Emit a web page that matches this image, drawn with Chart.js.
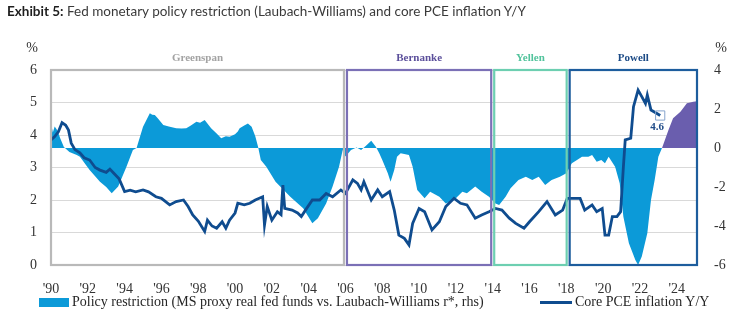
<!DOCTYPE html>
<html><head><meta charset="utf-8">
<script src="https://cdn.jsdelivr.net/npm/chart.js@4.4.1/dist/chart.umd.min.js"></script>
<style>
html,body{margin:0;padding:0;background:#fff;}
#wrap{position:relative;width:740px;height:328px;overflow:hidden;}
#title{position:absolute;left:7px;top:3px;font-family:Lato,"Open Sans",sans-serif;font-size:13.5px;color:#3a3a3a;white-space:nowrap;z-index:2;}
#title b{color:#1e1e1e;}
#chart{position:absolute;left:0;top:0;}
#legend{position:absolute;left:0;top:294px;width:740px;height:18px;font-family:"Liberation Serif","Times New Roman",serif;font-size:14px;color:#262626;z-index:2;}
.li{position:absolute;top:0;white-space:nowrap;line-height:16px;}
.sw{position:absolute;}
</style></head>
<body>
<div id="wrap">
  <div id="title"><b>Exhibit 5:</b> Fed monetary policy restriction (Laubach-Williams) and core PCE inflation Y/Y</div>
  <canvas id="chart" width="740" height="328"></canvas>
  <div id="legend">
    <div class="sw" style="left:39px;top:4px;width:30px;height:9px;background:#0c9ad8"></div>
    <div class="li" style="left:72px">Policy restriction (MS proxy real fed funds vs. Laubach-Williams r*, rhs)</div>
    <div class="sw" style="left:540px;top:7px;width:32px;height:3px;background:#0f4c8f"></div>
    <div class="li" style="left:575px">Core PCE inflation Y/Y</div>
  </div>
</div>
<script>
// ---------- data ----------
const tickYears  = [1990,1992,1994,1996,1998,2000,2002,2004,2006,2008,2010,2012,2014,2016,2018,2020,2022,2024];
const tickLabels = ["'90","'92","'94","'96","'98","'00","'02","'04","'06","'08","'10","'12","'14","'16","'18","'20","'22","'24"];

const chairNames = ["Greenspan","Bernanke","Yellen","Powell"];
const chairStart = [1990.0, 2006.0, 2014.0, 2018.1];
const chairEnd   = [2006.0, 2014.0, 2018.1, 2025.1];

// Core PCE inflation Y/Y (%, left axis)
const pceYears = [1990.0,1990.2,1990.4,1990.6,1990.8,1990.95,1991.1,1991.3,1991.57,1991.8,1992.1,1992.4,1992.66,1993.0,1993.2,1993.4,1993.7,1994.0,1994.3,1994.6,1995.0,1995.3,1995.7,1996.0,1996.45,1996.8,1997.2,1997.45,1997.7,1998.0,1998.35,1998.5,1998.75,1999.0,1999.3,1999.5,1999.7,2000.0,2000.15,2000.5,2000.8,2001.1,2001.5,2001.6,2001.75,2002.0,2002.3,2002.5,2002.6,2002.7,2003.1,2003.4,2003.6,2003.9,2004.2,2004.6,2004.95,2005.3,2005.75,2006.0,2006.4,2006.65,2006.85,2007.0,2007.4,2007.75,2008.0,2008.4,2008.65,2008.9,2009.2,2009.45,2009.65,2010.0,2010.3,2010.7,2011.1,2011.45,2011.9,2012.25,2012.6,2013.05,2013.4,2013.8,2014.15,2014.5,2014.9,2015.25,2015.7,2016.0,2016.5,2016.95,2017.4,2017.8,2018.05,2018.5,2018.75,2019.0,2019.4,2019.65,2019.95,2020.1,2020.3,2020.5,2020.75,2020.95,2021.1,2021.2,2021.5,2021.65,2021.9,2022.1,2022.3,2022.4,2022.6,2022.9,2023.1];
const pceValues = [3.85,3.95,4.1,4.38,4.3,4.15,3.75,3.55,3.45,3.3,3.23,3.0,2.92,2.85,2.95,2.83,2.65,2.26,2.3,2.25,2.31,2.25,2.1,2.05,1.85,1.95,2.0,1.8,1.54,1.35,1.03,1.38,1.2,1.13,1.33,1.13,1.38,1.6,1.9,1.85,1.9,2.0,2.1,1.23,1.8,1.38,1.64,1.55,2.46,1.74,1.69,1.6,1.49,1.75,2.0,2.0,2.2,2.1,2.31,2.2,2.62,2.51,2.31,2.56,2.0,2.31,2.1,2.26,1.69,0.92,0.82,0.62,1.28,1.74,1.64,1.08,1.33,1.8,2.05,1.9,1.85,1.44,1.54,1.64,1.74,1.69,1.44,1.28,1.13,1.33,1.64,1.95,1.54,1.69,2.05,2.05,2.05,1.69,1.85,1.64,1.74,0.92,0.92,1.49,1.49,1.64,3.02,3.85,3.9,4.87,5.38,5.18,4.97,5.23,4.77,4.67,4.6];

// Policy restriction (pp, right axis)
const restrictYears = [1990.0,1990.1,1990.2,1990.35,1990.5,1990.7,1991.0,1991.4,1991.57,1992.1,1992.66,1993.0,1993.3,1993.65,1994.1,1994.45,1994.65,1995.0,1995.37,1995.5,1995.64,1995.8,1996.1,1996.4,1996.8,1997.1,1997.35,1997.6,1997.9,1998.1,1998.35,1998.7,1999.0,1999.25,1999.5,1999.7,2000.0,2000.15,2000.25,2000.5,2000.7,2000.9,2001.1,2001.25,2001.4,2001.7,2002.2,2003.0,2003.7,2004.2,2004.5,2004.95,2005.3,2005.65,2005.85,2006.0,2006.3,2006.6,2006.85,2007.1,2007.4,2007.65,2007.83,2008.0,2008.3,2008.45,2008.65,2008.8,2009.0,2009.45,2009.65,2009.9,2010.3,2010.6,2011.1,2011.45,2011.9,2012.35,2012.6,2013.05,2013.4,2013.8,2014.15,2014.35,2014.7,2014.97,2015.4,2015.8,2016.15,2016.5,2016.85,2017.2,2017.65,2018.0,2018.3,2018.6,2018.85,2019.2,2019.4,2019.65,2019.9,2020.1,2020.3,2020.65,2020.9,2021.1,2021.4,2021.75,2021.9,2022.1,2022.4,2022.6,2022.8,2023.0,2023.2];
const restrictValues = [1.3,0.8,1.1,0.9,0.5,0.05,-0.2,-0.36,-0.45,-1.13,-1.73,-2.0,-2.32,-1.98,-0.96,-0.1,0,1.09,1.78,1.7,1.69,1.52,1.18,1.1,1.01,1.0,1.01,1.15,1.35,1.3,1.44,1.01,0.75,0.5,0.6,0.58,0.7,0.84,1.01,1.15,1.26,1.09,0.6,0.07,-0.62,-0.96,-1.73,-2.5,-3.09,-3.86,-3.6,-2.84,-1.98,-0.96,-0.1,-0.44,-0.1,0.03,-0.1,0.1,0.37,0.07,-0.26,-0.62,-1.3,-1.73,-1.13,-0.45,-0.27,-0.36,-0.96,-2.15,-2.58,-2.24,-2.5,-2.84,-2.67,-2.24,-2.32,-1.98,-2.24,-2.5,-2.84,-2.92,-2.5,-2.07,-1.64,-1.47,-1.64,-1.47,-1.9,-1.64,-1.47,-1.3,-0.78,-0.6,-0.45,-0.45,-0.36,-0.7,-0.62,-0.78,-0.45,-0.96,-1.81,-3.52,-4.89,-5.74,-6.0,-5.57,-4.37,-2.67,-1.64,-0.45,0];
// latest restrictive stretch (shown in purple)
const recentYears  = [2023.2,2023.55,2023.8,2024.2,2024.55,2024.9,2025.1];
const recentValues = [0,0.92,1.52,1.86,2.29,2.37,2.4];

const lastPceLabel = "4.6";

// ---------- styles ----------
const SERIF = '"Liberation Serif","Times New Roman",serif';
const chairBoxColors  = ["#b9b9b9","#7b70b6","#6dcfb1","#1d5d9d"];
const chairTextColors = ["#a3a3a3","#5b4f9b","#52c39c","#1c4b86"];

const pts = (xs, ys) => xs.map((x, i) => ({x: x, y: ys[i]}));

const overlay = {
  id: 'overlay',
  afterDatasetsDraw(chart) {
    const {ctx, chartArea: a, scales} = chart;
    const xs = scales.x;
    ctx.save();
    chairNames.forEach((name, i) => {
      let x0 = xs.getPixelForValue(chairStart[i]);
      let x1 = xs.getPixelForValue(chairEnd[i]);
      if (i > 0) x0 += 1.5;
      if (i < chairNames.length - 1) x1 -= 1.5;
      ctx.strokeStyle = chairBoxColors[i];
      ctx.lineWidth = 2.2;
      ctx.strokeRect(x0, a.top, x1 - x0, a.bottom - a.top);
      ctx.fillStyle = chairTextColors[i];
      ctx.font = 'bold 11px ' + SERIF;
      ctx.textAlign = 'center';
      ctx.textBaseline = 'middle';
      ctx.fillText(name, (x0 + x1) / 2, a.top - 12);
    });
    // axis unit labels
    ctx.fillStyle = '#333';
    ctx.font = '14px ' + SERIF;
    ctx.textAlign = 'center';
    ctx.fillText('%', 32, a.top - 22);
    ctx.fillText('%', 721, a.top - 22);
    // last PCE value label
    const meta = chart.getDatasetMeta(0);
    const last = meta.data[meta.data.length - 1];
    ctx.fillStyle = '#1f4b88';
    ctx.font = 'bold 11px ' + SERIF;
    ctx.fillText(lastPceLabel, last.x - 3, last.y + 12);
    ctx.restore();
  }
};

new Chart(document.getElementById('chart'), {
  type: 'line',
  data: {
    datasets: [
      {
        label: 'Core PCE inflation Y/Y',
        data: pts(pceYears, pceValues),
        yAxisID: 'y',
        borderColor: '#0f4c8f',
        borderWidth: 2.8,
        fill: false,
        tension: 0,
        pointStyle: 'rect',
        pointRadius: c => c.dataIndex === pceYears.length - 1 ? 6.5 : 0,
        pointBorderColor: '#86a4cc',
        pointBorderWidth: 1,
        pointBackgroundColor: 'rgba(0,0,0,0)',
        order: 0
      },
      {
        label: 'Policy restriction',
        data: pts(restrictYears, restrictValues),
        yAxisID: 'y1',
        borderColor: 'rgba(0,0,0,0)',
        borderWidth: 0,
        backgroundColor: '#0c9ad8',
        fill: 'origin',
        pointRadius: 0,
        tension: 0,
        order: 2
      },
      {
        label: 'Policy restriction (recent)',
        data: pts(recentYears, recentValues),
        yAxisID: 'y1',
        borderColor: 'rgba(0,0,0,0)',
        borderWidth: 0,
        backgroundColor: '#6a5eae',
        fill: 'origin',
        pointRadius: 0,
        tension: 0,
        order: 1
      }
    ]
  },
  options: {
    responsive: false,
    animation: false,
    devicePixelRatio: 1,
    events: [],
    layout: {padding: {top: 70, left: 0, right: 0, bottom: 33}},
    plugins: {legend: {display: false}, tooltip: {enabled: false}, title: {display: false}},
    scales: {
      x: {
        type: 'linear', min: 1990, max: 2025.1,
        grid: {display: false}, border: {display: false},
        afterBuildTicks: s => { s.ticks = tickYears.map(v => ({value: v})); },
        afterFit: s => { s.height = 30; },
        ticks: {
          autoSkip: false, maxRotation: 0, padding: 8,
          color: '#333', font: {family: SERIF, size: 14},
          callback: v => tickLabels[tickYears.indexOf(v)]
        }
      },
      y: {
        position: 'left', min: 0, max: 6,
        afterFit: s => { s.width = 51; },
        grid: {color: '#d9d9d9', lineWidth: 1, drawTicks: false},
        border: {display: false},
        ticks: {stepSize: 1, padding: 14, color: '#333', font: {family: SERIF, size: 14}}
      },
      y1: {
        position: 'right', min: -6, max: 4,
        afterFit: s => { s.width = 43; },
        grid: {display: false, drawTicks: false},
        border: {display: false},
        ticks: {stepSize: 2, padding: 17, color: '#333', font: {family: SERIF, size: 14}}
      }
    }
  },
  plugins: [overlay]
});
</script>
</body></html>
